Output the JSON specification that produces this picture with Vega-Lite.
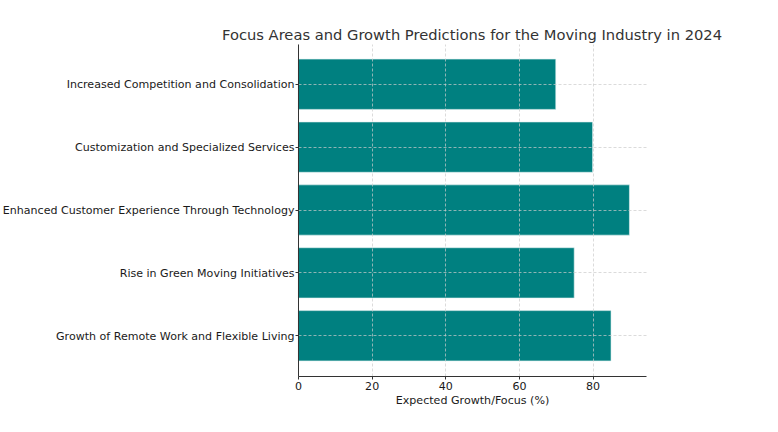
{
  "$schema": "https://vega.github.io/schema/vega-lite/v6.json",
  "width": 348,
  "height": 332,
  "autosize": "none",
  "padding": {"left": 298, "top": 44, "right": 132, "bottom": 56},
  "background": "white",
  "config": {
    "font": "DejaVu Sans",
    "view": {"stroke": null},
    "axis": {
      "labelFont": "DejaVu Sans",
      "titleFont": "DejaVu Sans",
      "labelFontSize": 11.05,
      "titleFontSize": 11.1,
      "titleFontWeight": "normal",
      "labelColor": "#1a1a1a",
      "titleColor": "#1a1a1a",
      "domainColor": "#333333",
      "tickColor": "#333333",
      "tickSize": 3,
      "gridColor": "#cccccc",
      "gridDash": [3, 2],
      "gridWidth": 0.7
    }
  },
  "title": {
    "text": "Focus Areas and Growth Predictions for the Moving Industry in 2024",
    "font": "DejaVu Sans",
    "fontSize": 14.7,
    "fontWeight": "normal",
    "color": "#333333",
    "anchor": "middle",
    "offset": 1
  },
  "data": {
    "values": [
      {"area": "Increased Competition and Consolidation", "value": 70},
      {"area": "Customization and Specialized Services", "value": 80},
      {"area": "Enhanced Customer Experience Through Technology", "value": 90},
      {"area": "Rise in Green Moving Initiatives", "value": 75},
      {"area": "Growth of Remote Work and Flexible Living", "value": 85}
    ]
  },
  "mark": {"type": "bar", "color": "#008080", "stroke": "#e0f0f0", "strokeWidth": 0.6},
  "encoding": {
    "y": {
      "field": "area",
      "type": "nominal",
      "sort": null,
      "scale": {"paddingInner": 0.2, "paddingOuter": 0.24},
      "axis": {
        "title": null,
        "grid": true,
        "bandPosition": 0.5,
        "zindex": 1,
        "labelPadding": 1,
        "labelOffset": 1,
        "labelLimit": 400,
        "domain": true
      }
    },
    "x": {
      "field": "value",
      "type": "quantitative",
      "scale": {"domain": [0, 94.5], "nice": false, "zero": true},
      "axis": {
        "title": "Expected Growth/Focus (%)",
        "values": [0, 20, 40, 60, 80],
        "grid": true,
        "zindex": 1,
        "labelPadding": 1,
        "titlePadding": 3,
        "labelFlush": false
      }
    }
  }
}
